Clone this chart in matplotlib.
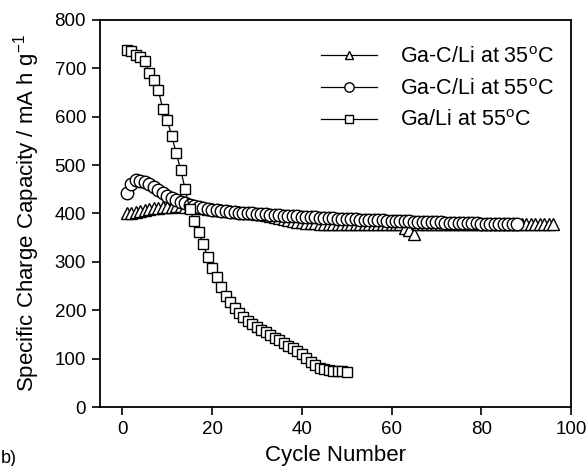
import numpy as np
import matplotlib
matplotlib.use("Agg")
import matplotlib.pyplot as plt

plt.rcParams['font.family'] = ['Liberation Sans', 'DejaVu Sans']

# Ga-C/Li at 35 C (cycles 1..96)
tri_vals = [400, 402, 404, 406, 408, 410, 411, 412, 413, 414,
            414, 415, 415, 414, 414, 413, 412, 411, 410, 409,
            408, 407, 406, 405, 404, 403, 402, 401, 400, 399,
            398, 396, 394, 392, 390, 388, 386, 384, 383, 382,
            381, 380, 380, 379, 379, 379, 378, 378, 378, 378,
            378, 378, 378, 378, 378, 378, 378, 378, 378, 378,
            378, 378, 370, 366, 358, 378, 378, 378, 378, 378,
            378, 378, 378, 378, 378, 378, 378, 378, 378, 378,
            378, 378, 378, 378, 378, 378, 378, 378, 378, 378,
            378, 378, 378, 378, 378, 378]
# Ga-C/Li at 55 C (cycles 1..88)
circ_vals = [442, 462, 470, 468, 465, 460, 455, 449, 443, 437,
             432, 428, 424, 421, 418, 415, 413, 411, 410, 408,
             407, 406, 405, 404, 403, 402, 401, 401, 400, 399,
             399, 398, 397, 397, 396, 395, 395, 394, 394, 393,
             393, 392, 392, 391, 391, 390, 390, 389, 389, 388,
             388, 388, 387, 387, 387, 386, 386, 386, 385, 385,
             385, 384, 384, 384, 383, 383, 383, 382, 382, 382,
             382, 381, 381, 381, 381, 380, 380, 380, 380, 379,
             379, 379, 379, 379, 378, 378, 378, 378]
# Ga/Li at 55 C (cycles 1..50)
sq_vals = [738, 735, 728, 723, 715, 690, 676, 655, 617, 593,
           560, 525, 490, 450, 409, 385, 362, 337, 310, 287,
           268, 248, 229, 217, 204, 194, 187, 178, 171, 166,
           160, 155, 148, 143, 138, 132, 126, 121, 116, 110,
           102, 94, 86, 81, 78, 76, 75, 74, 74, 73]

tri_x = np.arange(1, len(tri_vals) + 1)
circ_x = np.arange(1, len(circ_vals) + 1)
sq_x = np.arange(1, len(sq_vals) + 1)

labels = ['Ga-C/Li at 35$^{\\mathregular{o}}$C',
          'Ga-C/Li at 55$^{\\mathregular{o}}$C',
          'Ga/Li at 55$^{\\mathregular{o}}$C']
x_ticks = [0, 20, 40, 60, 80, 100]
y_ticks = [0, 100, 200, 300, 400, 500, 600, 700, 800]

fig = plt.figure(figsize=(5.88, 4.66), dpi=100)
ax = fig.add_axes([0.170, 0.1266, 0.801, 0.8305])

ax.plot(tri_x, tri_vals, color='black', lw=0.9, marker='^', ms=8.5,
        mfc='white', mec='black', mew=1.0, label=labels[0])
ax.plot(circ_x, circ_vals, color='black', lw=0.9, marker='o', ms=9,
        mfc='white', mec='black', mew=1.0, label=labels[1])
ax.plot(sq_x, sq_vals, color='black', lw=0.9, marker='s', ms=7.8,
        mfc='white', mec='black', mew=1.0, label=labels[2])

ax.set_xlim(-5, 100)
ax.set_ylim(0, 800)
ax.set_xticks(x_ticks)
ax.set_yticks(y_ticks)
ax.tick_params(direction='out', length=6, width=1.2, labelsize=13.5,
               top=False, right=False, pad=4)
for s in ax.spines.values():
    s.set_linewidth(1.3)

ax.set_xlabel('Cycle Number', fontsize=16, labelpad=5)
ax.set_ylabel('Specific Charge Capacity / mA h g$^{\\mathregular{-1}}$',
              fontsize=16, labelpad=9)

leg = ax.legend(loc='upper right', frameon=False, fontsize=15.5,
                handlelength=2.6, handletextpad=1.05, labelspacing=0.5,
                bbox_to_anchor=(1.0, 0.975), markerscale=0.75,
                borderaxespad=0.4)

fig.text(0.002, 0.006, 'b)', fontsize=13)

fig.savefig('out.png', dpi=100)
